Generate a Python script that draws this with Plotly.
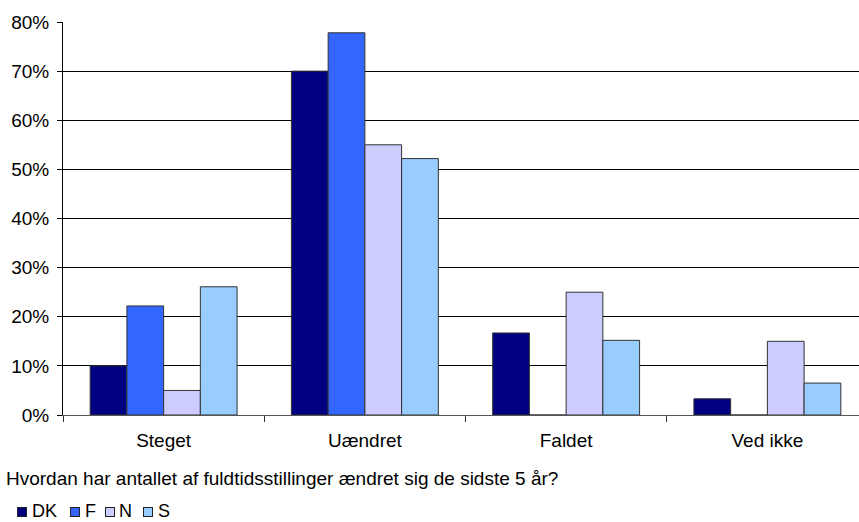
import plotly.graph_objects as go

categories = ["Steget", "Uændret", "Faldet", "Ved ikke"]
series = ["DK", "F", "N", "S"]
dk = [10.0, 70.0, 16.7, 3.3]
f = [22.2, 77.8, 0, 0]
n = [5.0, 55.0, 25.0, 15.0]
s = [26.1, 52.2, 15.2, 6.5]
colors = ["#000080", "#3366FF", "#CCCCFF", "#99CCFF"]
tick_vals = [0, 10, 20, 30, 40, 50, 60, 70, 80]
tick_text = [f"{v}%" for v in tick_vals]

# plot area runs slightly past the right edge of the window, as in the original
W, H = 868, 522
L, R, T, B = 63, 0, 22, 107
pw, ph = W - L - R, H - T - B


def px(x):
    return (x - L) / pw


def py(y):
    return (H - B - y) / ph


fig = go.Figure()
for name, vals, col in zip(series, [dk, f, n, s], colors):
    fig.add_trace(go.Bar(
        name=name, x=categories, y=vals,
        marker=dict(color=col, line=dict(color="#333333", width=1)),
    ))

# legend drawn as small boxes + labels (tight spacing like the original)
leg_box_x = [22, 75, 110, 148]
leg_txt_x = [30, 83, 117, 156]
annotations = []
for name, col, bx, tx in zip(series, colors, leg_box_x, leg_txt_x):
    annotations.append(dict(
        text=" ", xref="paper", yref="paper", x=px(bx), y=py(512),
        xanchor="center", yanchor="middle", showarrow=False,
        width=8, height=8, bgcolor=col, bordercolor="#222222", borderwidth=1, borderpad=0,
        font=dict(size=2),
    ))
    annotations.append(dict(
        text=name, xref="paper", yref="paper", x=px(tx), y=py(511),
        xanchor="left", yanchor="middle", showarrow=False, font=dict(size=18),
    ))
annotations.append(dict(
    text="Hvordan har antallet af fuldtidsstillinger ændret sig de sidste 5 år?",
    xref="paper", yref="paper", x=px(4), y=py(478), xanchor="left", yanchor="middle",
    showarrow=False,
))

fig.update_layout(
    width=W, height=H,
    barmode="group", bargap=0.27, bargroupgap=0,
    plot_bgcolor="white", paper_bgcolor="white",
    font=dict(family="Liberation Sans, Arial", size=19, color="black"),
    margin=dict(l=L, r=R, t=T, b=B),
    showlegend=False,
    annotations=annotations,
)
fig.update_xaxes(
    showline=True, linecolor="#555555", linewidth=1,
    ticks="outside", tickson="boundaries", ticklen=6, tickcolor="#333333",
    ticklabelstandoff=8,
    showgrid=False,
)
fig.update_yaxes(
    range=[0, 80], tickvals=tick_vals, ticktext=tick_text,
    showline=True, linecolor="black", linewidth=1,
    ticks="outside", ticklen=5, tickcolor="black",
    ticklabelstandoff=4,
    showgrid=True, gridcolor="black", gridwidth=1,
    zeroline=False,
)

fig.write_html("out.html", config={"displayModeBar": False},
               post_script="document.body.style.margin='0';")
